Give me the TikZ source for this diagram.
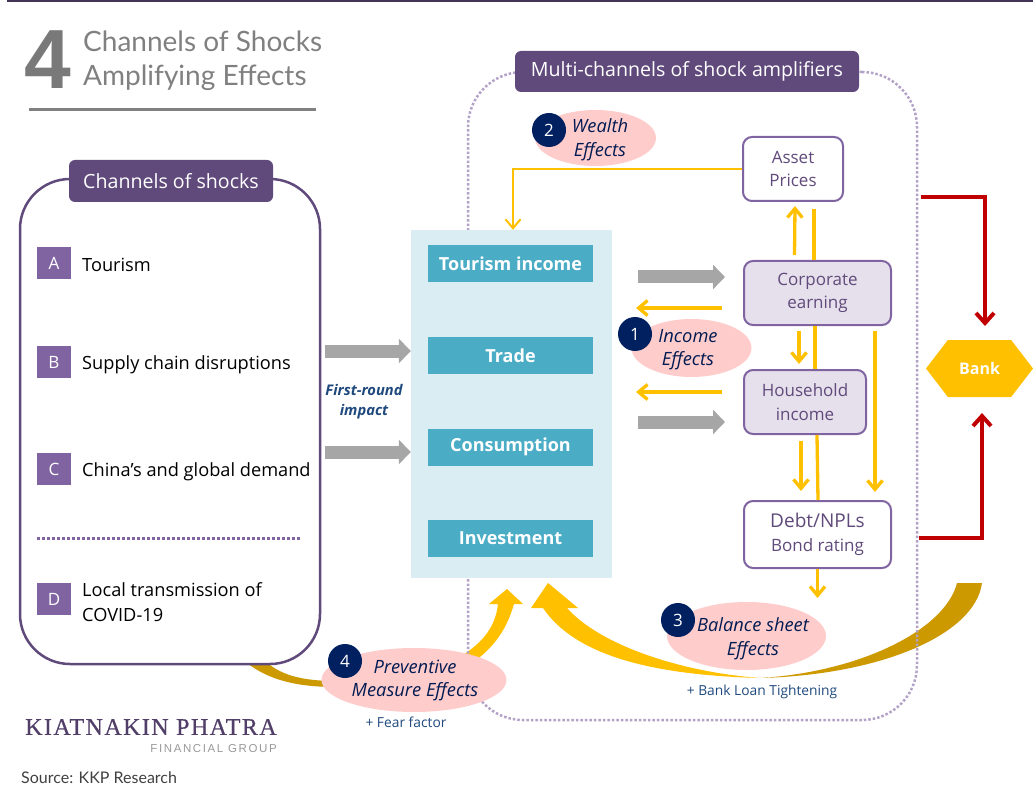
\documentclass[tikz,border=0pt]{standalone}
\usepackage{fontspec}
\setmainfont{Open Sans}
\newfontfamily\titlefont{Lato}
\newfontfamily\bigfont{Liberation Sans}
\newfontfamily\logofont[LetterSpace=6,FakeBold=0.5]{Liberation Serif}
\newfontfamily\subfont[LetterSpace=14]{Liberation Sans}
\usetikzlibrary{shapes, arrows.meta}
\newcommand{\setfs}[2]{\fontsize{#1}{#2}\selectfont}
\definecolor{kkppurple}{HTML}{604A7B}
\definecolor{kkpviolet}{HTML}{8064A2}
\definecolor{kkpdot}{HTML}{B3A2C7}
\definecolor{kkplilac}{HTML}{E6E0EC}
\definecolor{kkpyellow}{HTML}{FFC000}
\definecolor{kkpbrown}{HTML}{CC9900}
\definecolor{kkpred}{HTML}{C00000}
\definecolor{kkpgray}{HTML}{A6A6A6}
\definecolor{kkppale}{HTML}{DAEDF3}
\definecolor{kkpteal}{HTML}{4BACC6}
\definecolor{kkppink}{HTML}{FFCCCC}
\definecolor{kkpnavy}{HTML}{002060}
\definecolor{kkpblue}{HTML}{1F497D}
\tikzstyle{header} = [rectangle, fill=kkppurple, text=white, rounded corners=6pt, inner sep=0pt,
    font=\setfs{19.6}{22}]
\tikzstyle{letter} = [rectangle, fill=kkpviolet, text=white, minimum width=34pt, minimum height=32pt,
    inner sep=0pt, font=\setfs{17}{18}]
\tikzstyle{item} = [anchor=west, inner sep=0pt, align=left, text=black, font=\setfs{18.2}{25}]
\tikzstyle{tealbox} = [rectangle, fill=kkpteal, text=white, minimum width=165pt, minimum height=37pt,
    inner sep=0pt, font=\bfseries\setfs{18}{20}]
\tikzstyle{whitebox} = [rectangle, draw=kkpviolet, line width=2pt, fill=white, rounded corners=9pt,
    inner sep=0pt, align=center, text=kkppurple, font=\setfs{17}{23.5}]
\tikzstyle{lilacbox} = [whitebox, fill=kkplilac]
\tikzstyle{effect} = [ellipse, fill=kkppink, inner sep=0pt]
\tikzstyle{effecttext} = [inner sep=0pt, align=center, text=kkpnavy!85!black, font=\itshape\setfs{18.3}{23.5}]
\tikzstyle{badge} = [circle, fill=kkpnavy, text=white, minimum size=34pt, inner sep=0pt, font=\setfs{17}{18}]
\tikzstyle{note} = [inner sep=0pt, text=kkpblue, font=\setfs{13.8}{15}]
\tikzstyle{yline} = [draw=kkpyellow, line width=3.3pt, -{Straight Barb[length=9pt,width=15pt]}]
\tikzstyle{yplain} = [draw=kkpyellow, line width=3.3pt]
\tikzstyle{redline} = [draw=kkpred, line width=4pt, -{Straight Barb[length=10pt,width=18pt]}]
\tikzstyle{grayline} = [draw=kkpgray, line width=13pt, -{Triangle[length=12pt,width=24pt]}]
\begin{document}
\begin{tikzpicture}[x=1pt, y=-1pt, node distance=91.5pt]
\useasboundingbox (0,0) rectangle (1033,786);
\fill[kkppurple!70!black] (7,0) rectangle (1033,2);
\node[inner sep=0pt, text=gray!95!black, font=\bfseries\bigfont\setfs{84}{90}] (big_four) at (47.5,60) {4};
\node[anchor=west, inner sep=0pt, align=left, text=gray, font=\titlefont\setfs{28}{34}] (title) at (83,60.5) {Channels of Shocks\\Amplifying Effects};
\fill[gray] (29,108.5) rectangle (316,111.5);

\fill[kkpbrown] (243,660) .. controls (265,678) and (290,686) .. (330,687) -- (330,681) .. controls (300,680) and (280,675) .. (264,660) -- cycle;
\fill[kkpyellow] (455,660) .. controls (480,645) and (495,630) .. (498,604) -- (489,604) -- (507,589) -- (523,604) -- (514,604) .. controls (505,635) and (490,650) .. (470,665) -- cycle;
\fill[kkpbrown] (982,583) .. controls (975,635) and (880,675) .. (760,678) .. controls (860,672) and (945,630) .. (957,583) -- cycle;
\fill[kkpyellow] (760,678) .. controls (680,672) and (600,645) .. (567,608) -- (578,608) -- (548,583) -- (531,608) -- (543,608) .. controls (575,655) and (650,675) .. (760,678) -- cycle;

\node[rectangle, draw=kkpdot, dotted, line width=2.5pt, rounded corners=55pt, minimum width=449pt, minimum height=648pt, inner sep=0pt] (multi_box) at (692.5,396) {};
\node[rectangle, draw=kkppurple, line width=2.5pt, fill=white, rounded corners=50pt, minimum width=300pt, minimum height=485pt, inner sep=0pt] (chan_box) at (170,421.5) {};
\node[header, minimum width=204pt, minimum height=42pt] (chan_head) at (171,181) {Channels of shocks};
\node[header, minimum width=344pt, minimum height=41pt] (multi_head) at (687,71.5) {Multi-channels of shock amplifiers};

\node[letter] (let_a) at (54,263) {A};
\node[letter] (let_b) at (54,362) {B};
\node[letter] (let_c) at (54,469) {C};
\node[letter] (let_d) at (54,599) {D};
\node[item] (txt_a) at (82,264.5) {Tourism};
\node[item] (txt_b) at (82,364.5) {Supply chain disruptions};
\node[item] (txt_c) at (82,471.5) {China’s and global demand};
\node[item] (txt_d) at (82,602.5) {Local transmission of\\COVID-19};
\draw[kkpviolet, dotted, line width=3pt] (37,538) -- (300,538);

\node[rectangle, fill=kkppale, minimum width=201pt, minimum height=348pt, inner sep=0pt] (impact) at (511.5,404) {};
\node[tealbox] (tour_inc) at (510.5,264) {Tourism income};
\node[tealbox, below of=tour_inc] (trade) {Trade};
\node[tealbox, below of=trade] (consum) {Consumption};
\node[tealbox, below of=consum] (invest) {Investment};

\node[whitebox, minimum width=100pt, minimum height=64pt] (asset_price) at (793,169) {Asset\\Prices};
\node[lilacbox, minimum width=147pt, minimum height=64pt] (corp_earn) at (817.5,293) {Corporate\\earning};
\node[lilacbox, minimum width=122pt, minimum height=64pt] (hh_income) at (805,402) {Household\\income};
\node[whitebox, minimum width=147pt, minimum height=67pt] (debt_npl) at (817.5,534.5) {\setfs{19}{25}Debt/NPLs\\Bond rating};
\node[signal, signal to=east and west, signal pointer angle=105, fill=kkpyellow, text=white, minimum width=107pt, minimum height=57pt, inner sep=0pt, font=\bfseries\setfs{16}{18}] (bank) at (979.5,368.5) {Bank};

\node[effect, minimum width=121pt, minimum height=56pt] (wealth) at (595.5,138) {};
\node[effecttext] (wealth_txt) at (600,139.5) {Wealth\\Effects};
\node[badge, below of=wealth, node distance=0pt, xshift=-46.5pt, yshift=8pt] (badge_two) {2};
\node[effect, minimum width=120pt, minimum height=58pt] (income) at (691.5,348) {};
\node[effecttext] (income_txt) at (688,349.5) {Income\\Effects};
\node[badge] (badge_one) at (635,334) {1};
\node[effect, minimum width=159pt, minimum height=68pt] (balance) at (746.5,636) {};
\node[effecttext] (balance_txt) at (753,638.5) {Balance sheet\\Effects};
\node[badge] (badge_three) at (678,620) {3};
\node[effect, minimum width=185pt, minimum height=64pt] (prevent) at (414,680) {};
\node[effecttext] (prevent_txt) at (415,680.5) {Preventive\\Measure Effects};
\node[badge] (badge_four) at (345,661) {4};

\node[inner sep=0pt, align=center, text=kkpblue, font=\bfseries\itshape\setfs{14.7}{20}] (first_round) at (364,402) {First-round\\impact};
\node[note] (fear) at (406,722) {+ Fear factor};
\node[note] (tighten) at (762,692) {+ Bank Loan Tightening};

\node[anchor=west, inner sep=0pt, text=kkppurple!85!black, font=\logofont\setfs{24}{26}] (logo) at (25,727) {KIATNAKIN PHATRA};
\node[anchor=east, inner sep=0pt, text=gray!80, font=\subfont\setfs{11.5}{13}] (logo_sub) at (277,749) {FINANCIAL GROUP};
\node[anchor=west, inner sep=0pt, text=black!75, font=\titlefont\setfs{16}{18}] (source) at (21,778) {Source: KKP Research};

\coordinate (g1a) at (325,351);
\coordinate (g2a) at (325,452);
\coordinate (g3a) at (638,277);
\coordinate (g4a) at (638,422);
\path [grayline] (g1a) -- (impact.west |- g1a);
\path [grayline] (g2a) -- (impact.west |- g2a);
\path [grayline] (g3a) -- (725,277);
\path [grayline] (g4a) -- (725,422);

\coordinate (wealth_turn) at (513,169);
\path [yline, line width=2pt] (asset_price.west) -- (wealth_turn) -- (impact.north -| wealth_turn);
\path [yline] ([xshift=-23pt,yshift=5pt]corp_earn.north) -- ([xshift=2pt,yshift=-4pt]asset_price.south);
\path [yplain] ([xshift=-3.5pt]corp_earn.north) -- ([xshift=21pt,yshift=-7pt]asset_price.south);
\path [yplain] ([xshift=-2.5pt]corp_earn.south) -- ([xshift=10pt]hh_income.north);
\path [yplain] ([xshift=12pt]hh_income.south) -- ([xshift=0.5pt]debt_npl.north);
\path [yline] (debt_npl.south) -- ([yshift=-29pt]debt_npl.south);
\path [yline] ([xshift=-18.5pt,yshift=-5pt]corp_earn.south) -- ([xshift=-6pt,yshift=5pt]hh_income.north);
\path [yline] ([xshift=-4pt,yshift=-6pt]hh_income.south) -- ([xshift=-16.5pt,yshift=9pt]debt_npl.north);
\path [yline] ([xshift=57.5pt,yshift=-5pt]corp_earn.south) -- ([xshift=57.5pt,yshift=8pt]debt_npl.north);
\path [yline] ([xshift=-21pt,yshift=-15pt]corp_earn.west) -- ([xshift=-107pt,yshift=-15pt]corp_earn.west);
\path [yline] ([xshift=-21pt,yshift=10pt]hh_income.west) -- ([xshift=-107pt,yshift=10pt]hh_income.west);

\coordinate (red_a) at (921,197);
\coordinate (red_b) at (919,538);
\path [redline] (red_a) -- (985,197) -- (985,326);
\path [redline] (red_b) -- (982,538) -- (982,413);
\end{tikzpicture}
\end{document}
